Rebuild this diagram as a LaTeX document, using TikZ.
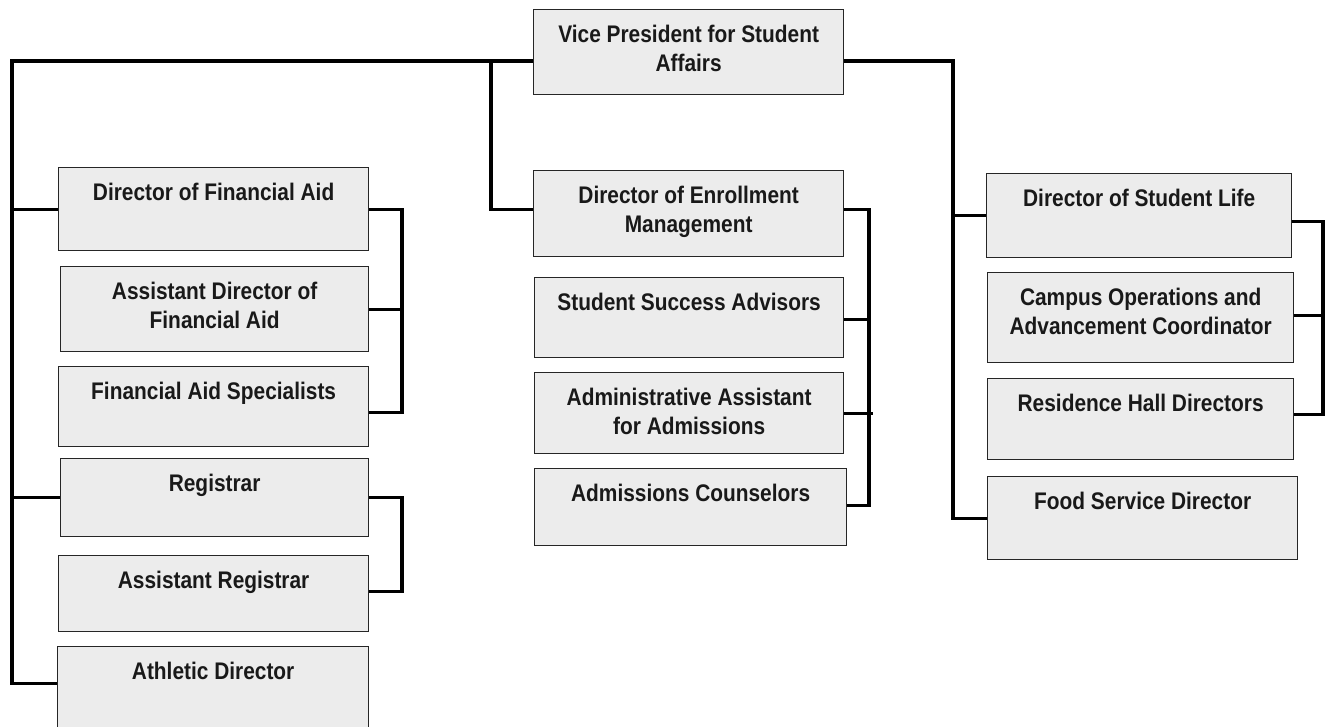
\documentclass[tikz,border=0pt]{standalone}
\usepackage{fontspec}
\setmainfont{Liberation Sans}[FakeStretch=0.87]
\usetikzlibrary{calc}
\definecolor{boxgray}{RGB}{236,236,236}
\definecolor{txt}{RGB}{25,25,25}
\tikzset{
  box/.style={draw=black!85, line width=1.3pt, fill=boxgray, rectangle, inner sep=0pt, anchor=north west},
  lbl/.style={anchor=base, align=center, font=\fontsize{24}{29}\selectfont\bfseries, text=txt, inner sep=0pt},
  conn/.style={line width=3.2pt, line join=miter, draw=black}
}
% one-line label
\newcommand\orgbox[6]{%
  \node[box, minimum width=#4, minimum height=#5] (#1) at (#2,#3) {};
  \node[lbl] (#1t) at ($(#1.north)+(0,33)$) {#6};
}
% two-line label (base anchor is the last line)
\newcommand\orgboxii[6]{%
  \node[box, minimum width=#4, minimum height=#5] (#1) at (#2,#3) {};
  \node[lbl] (#1t) at ($(#1.north)+(0,62)$) {#6};
}
\begin{document}
\begin{tikzpicture}[x=1pt,y=-1pt]
\useasboundingbox (0,0) rectangle (1329,726);
\clip (0,0) rectangle (1329,726);
\fill[white] (0,0) rectangle (1329,726);
% boxes
\orgboxii{vp}{533}{9}{310}{85}{Vice President for Student\\Affairs}
\orgbox{fin}{58}{167}{310}{83}{Director of Financial Aid}
\orgboxii{ad}{60}{266}{308}{85}{Assistant Director of\\Financial Aid}
\orgbox{spec}{58}{366}{310}{80}{Financial Aid Specialists}
\orgbox{reg}{60}{458}{308}{78}{Registrar}
\orgbox{areg}{58}{555}{310}{76}{Assistant Registrar}
\orgbox{ath}{57}{646}{311}{90}{Athletic Director}
\orgboxii{enr}{533}{170}{310}{86}{Director of Enrollment\\Management}
\orgbox{ssa}{534}{277}{309}{80}{Student Success Advisors}
\orgboxii{adm}{534}{372}{309}{81}{Administrative Assistant\\for Admissions}
\orgbox{cou}{534}{468}{312}{77}{Admissions Counselors}
\orgbox{sl}{986}{173}{305}{84}{Director of Student Life}
\orgboxii{cam}{987}{272}{306}{90}{Campus Operations and\\Advancement Coordinator}
\orgbox{res}{987}{378}{306}{81}{Residence Hall Directors}
\orgbox{food}{987}{476}{310}{83}{Food Service Director}
% junction coordinates
\coordinate (tl) at (12,61);
\coordinate (tm) at (491,61);
\coordinate (tr) at (953,61);
\coordinate (b1) at (402,0);
\coordinate (b2) at (869,0);
\coordinate (b3) at (1323,0);
% trunk lines
\draw[conn] (vp.west |- tl) -- (tl) |- ([yshift=8pt]ath.west);
\draw[conn] (tl |- fin.west) -- (fin.west);
\draw[conn] (tl |- reg.west) -- (reg.west);
\draw[conn] (tm) |- ([yshift=4pt]enr.west);
\draw[conn] (vp.east |- tr) -- (tr) |- (food.west);
\draw[conn] (tr |- sl.west) -- (sl.west);
% brackets
\draw[conn] ([yshift=-0.5pt]fin.east) -- ([yshift=-0.5pt]fin.east -| b1) -- ([yshift=-6pt]spec.east -| b1) -- ([yshift=-6pt]spec.east);
\draw[conn] (ad.east) -- (ad.east -| b1);
\draw[conn] (reg.east) -- (reg.east -| b1) -- ([yshift=2pt]areg.east -| b1) -- ([yshift=2pt]areg.east);
\draw[conn] ([yshift=4pt]enr.east) -- ([yshift=4pt]enr.east -| b2) -- ([yshift=2pt]cou.east -| b2) -- ([yshift=2pt]cou.east);
\draw[conn] ([yshift=-2pt]ssa.east) -- ([yshift=-2pt]ssa.east -| b2);
\draw[conn] (adm.east) -- ($(adm.east -| b2)+(4,0)$);
\draw[conn] ([yshift=-6pt]sl.east) -- ([yshift=-6pt]sl.east -| b3) -- ([yshift=5pt]res.east -| b3) -- ([yshift=5pt]res.east);
\draw[conn] ([yshift=2pt]cam.east) -- ([yshift=2pt]cam.east -| b3);
\end{tikzpicture}
\end{document}
